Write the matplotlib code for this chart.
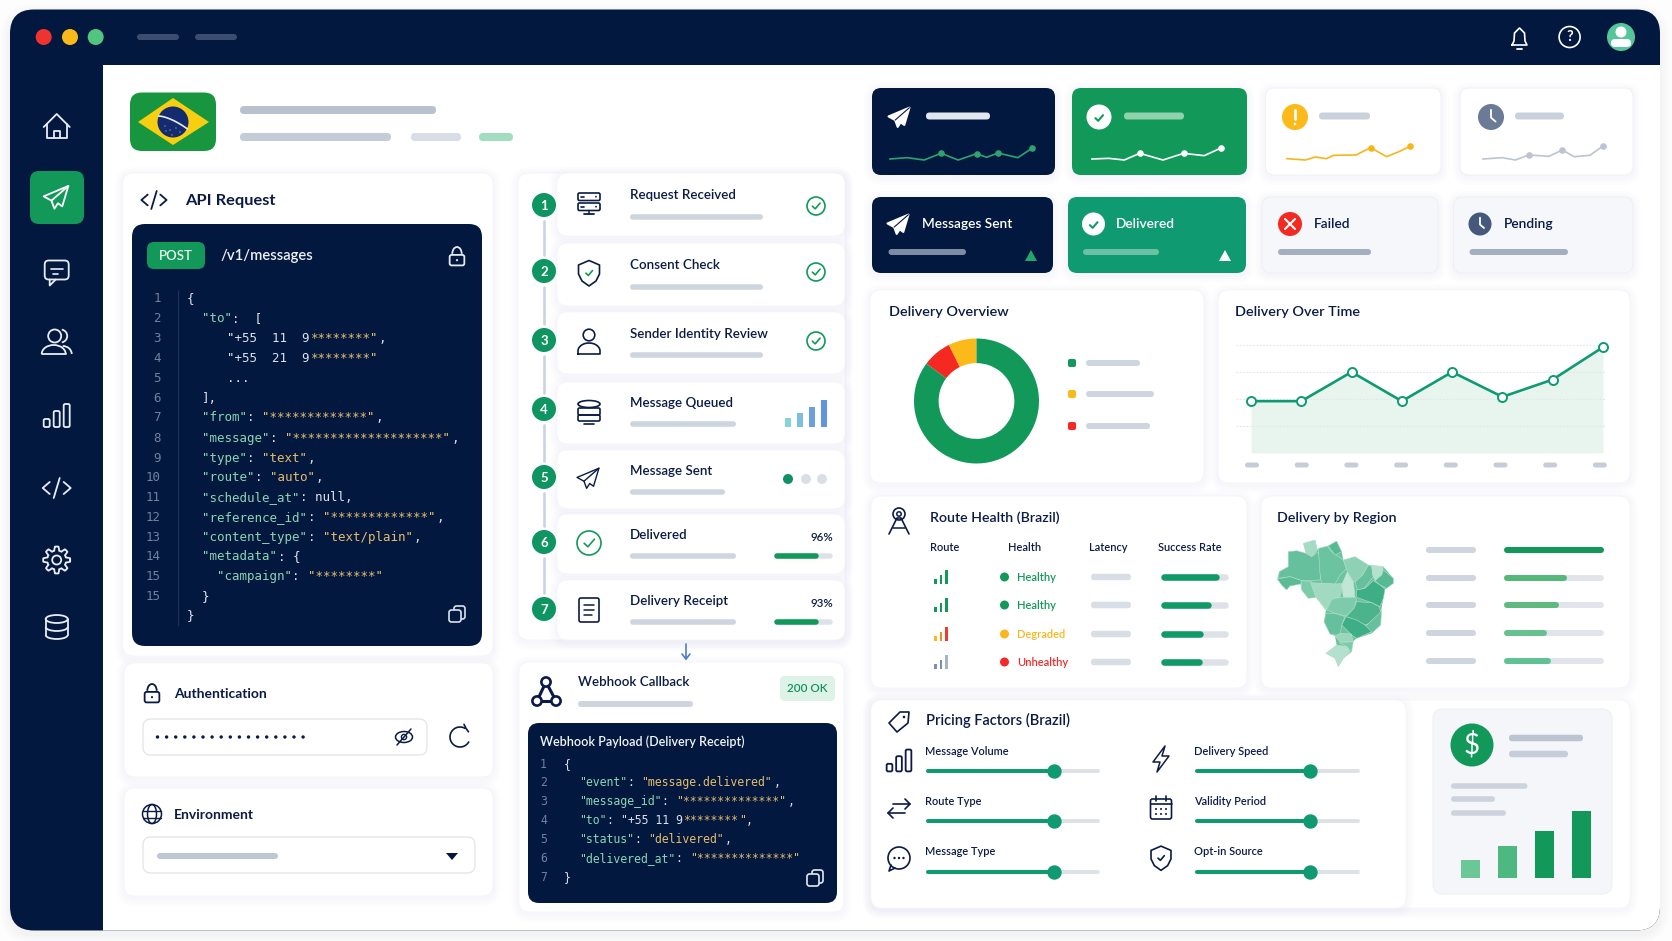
import itertools
import numpy as np
import matplotlib
matplotlib.use("Agg")
import matplotlib.pyplot as plt
from matplotlib.patches import FancyBboxPatch, Circle, Ellipse, Polygon, Arc, Rectangle

W, H = 1672, 941

NAVY = "#03183F"
INK = "#0B1B45"
GREEN = "#12995A"
TEAL = "#0F9A72"
PILL = "#CFD5DF"
KEY = "#8AD6B4"
STR = "#E6BC6E"
PUNCT = "#DCE2EE"
NUM = "#71819F"

# ---- data ----
spark_x = [
    [0, 12, 24, 36, 48, 61, 68, 76, 90, 100],
    [0, 13, 25, 37, 55, 71, 87, 100],
    [0, 15, 23, 32, 38, 56, 68, 81, 91, 100],
    [0, 16, 27, 38, 55, 66, 76, 89, 100],
]
spark_y = [
    [3, 7, 0, 20, 0, 19, 8, 21, 7, 35],
    [3, 5, 0, 20, 0, 20, 13, 36],
    [4, 0, 9, 4, 14, 15, 37, 10, 25, 41],
    [3, 7, 0, 15, 11, 30, 10, 14, 42],
]
spark_marks = [[3, 5, 7, 9], [3, 5, 7], [6, 9], [3, 5, 8]]
spark_colors = ["#2FA36F", "#FFFFFF", "#F7B519", "#BCC3D2"]

donut_values = [7.3, 7.5, 85.2]
donut_colors = ["#FBB91A", "#F42A22", GREEN]

time_values = [48, 48, 75, 48, 75, 52, 68, 98]

stat_labels = ["Messages Sent", "Delivered", "Failed", "Pending"]

steps = ["Request Received", "Consent Check", "Sender Identity Review", "Message Queued",
         "Message Sent", "Delivered", "Delivery Receipt"]
queue_bars = [9, 14, 20, 27]
queue_colors = ["#86D3DA", "#7DBFE0", "#6B9FDD", "#6193DE"]
step_pct = [96, 93]
step_fill = [0.74, 0.73]

route_headers = ["Route", "Health", "Latency", "Success Rate"]
route_status = ["Healthy", "Healthy", "Degraded", "Unhealthy"]
route_status_colors = [GREEN, GREEN, "#F9B71C", "#F42A2A"]
route_success = [0.86, 0.73, 0.59, 0.58]
signal_levels = [5, 9, 14.5]
signal_colors = [[GREEN] * 3, [GREEN] * 3, ["#F9B71C", "#F58A1F", "#EF3B2D"], ["#7F8FAE", "#7F8FAE", "#A9B3C6"]]

region_fill = [1.0, 0.61, 0.52, 0.39, 0.44]
region_colors = ["#12995A", "#55B87A", "#5DBB80", "#66C08F", "#5FC294"]

price_left = ["Message Volume", "Route Type", "Message Type"]
price_right = ["Delivery Speed", "Validity Period", "Opt-in Source"]
price_left_val = [0.74, 0.74, 0.74]
price_right_val = [0.70, 0.70, 0.70]

cost_bars = [18, 32, 47, 67]
cost_colors = ["#6CC797", "#4DB87F", GREEN, GREEN]

api_numbers = ["1", "2", "3", "4", "5", "6", "7", "8", "9", "10", "11", "12", "13", "14", "15", "15"]
api_code = [
    (187, [("{", PUNCT)]),
    (202, [('"to"', KEY), (":  [", PUNCT)]),
    (227, [('"+55  11  9', PUNCT), ("********", STR), ('"', STR), (",", PUNCT)]),
    (227, [('"+55  21  9', PUNCT), ("********", STR), ('"', STR)]),
    (227, [("...", PUNCT)]),
    (202, [("],", PUNCT)]),
    (202, [('"from"', KEY), (": ", PUNCT), ('"*************"', STR), (",", PUNCT)]),
    (202, [('"message"', KEY), (": ", PUNCT), ('"********************"', STR), (",", PUNCT)]),
    (202, [('"type"', KEY), (": ", PUNCT), ('"text"', STR), (",", PUNCT)]),
    (202, [('"route"', KEY), (": ", PUNCT), ('"auto"', STR), (",", PUNCT)]),
    (202, [('"schedule_at"', KEY), (": null,", PUNCT)]),
    (202, [('"reference_id"', KEY), (": ", PUNCT), ('"*************"', STR), (",", PUNCT)]),
    (202, [('"content_type"', KEY), (": ", PUNCT), ('"text/plain"', STR), (",", PUNCT)]),
    (202, [('"metadata"', KEY), (": {", PUNCT)]),
    (217, [('"campaign"', KEY), (": ", PUNCT), ('"********"', STR)]),
    (202, [("}", PUNCT)]),
    (187, [("}", PUNCT)]),
]
api_line_y = [298, 318, 337.5, 358, 377.5, 398, 417, 438, 457.5, 477, 497, 517, 537, 556, 576, 595.5, 615]

hook_code = [
    (564, [("{", PUNCT)]),
    (579, [('"event"', KEY), (": ", PUNCT), ('"message.delivered"', STR), (",", PUNCT)]),
    (579, [('"message_id"', KEY), (": ", PUNCT), ('"**************"', STR), (",", PUNCT)]),
    (579, [('"to"', KEY), (": ", PUNCT), ('"+55 11 9', PUNCT), ("********", STR), ('"', STR), (",", PUNCT)]),
    (579, [('"status"', KEY), (": ", PUNCT), ('"delivered"', STR), (",", PUNCT)]),
    (579, [('"delivered_at"', KEY), (": ", PUNCT), ('"**************"', STR)]),
    (564, [("}", PUNCT)]),
]
hook_line_y = [764, 782, 801, 820, 839, 858, 877]

# map shapes, shade per state
brazil_outline = [(190, 100), (225, 90), (232, 118), (262, 108), (290, 93), (305, 125), (310, 150), (345, 140),
                  (385, 165), (430, 170), (460, 205), (460, 220), (435, 238), (430, 265), (422, 310), (422, 345),
                  (395, 370), (350, 385), (338, 395), (335, 425), (310, 445), (295, 470), (285, 445), (258, 430),
                  (290, 405), (285, 378), (270, 372), (252, 335), (258, 300), (228, 262), (205, 265), (185, 240),
                  (182, 222), (150, 228), (140, 240), (125, 225), (112, 207), (118, 185), (145, 170), (145, 125),
                  (170, 122), (198, 130)]
brazil_states = [
    ([(190, 100), (225, 90), (232, 120), (215, 140), (198, 130)], "#A5DAC3"),
    ([(145, 125), (170, 122), (198, 130), (215, 140), (235, 125), (245, 175), (240, 210), (185, 212), (150, 200), (115, 205), (118, 185), (145, 170)], "#67C09D"),
    ([(112, 207), (150, 200), (185, 212), (182, 222), (150, 228), (140, 240), (125, 225)], "#5ABB95"),
    ([(185, 212), (215, 215), (230, 262), (205, 265), (185, 240)], "#7ECBAB"),
    ([(235, 115), (262, 108), (275, 125), (310, 150), (320, 175), (300, 195), (285, 222), (245, 222), (240, 190)], "#6BC3A0"),
    ([(265, 108), (290, 93), (305, 125), (285, 135)], "#58BA93"),
    ([(212, 218), (285, 222), (310, 220), (300, 262), (275, 265), (258, 300), (228, 262)], "#A2D9C1"),
    ([(322, 185), (340, 215), (345, 262), (310, 262), (305, 225)], "#C2E6D6"),
    ([(310, 150), (345, 140), (385, 165), (368, 195), (352, 215), (340, 215), (322, 185)], "#8FD1B5"),
    ([(385, 165), (395, 170), (400, 200), (372, 235), (352, 240), (345, 215), (368, 195)], "#66C09E"),
    ([(395, 165), (430, 170), (425, 195), (405, 212), (398, 195)], "#B4E0CE"),
    ([(430, 180), (460, 205), (460, 220), (440, 235), (420, 225), (405, 212), (425, 195)], "#58BA93"),
    ([(350, 240), (375, 235), (400, 212), (420, 225), (435, 238), (430, 265), (420, 290), (395, 278), (350, 262)], "#3DAE85"),
    ([(300, 262), (345, 262), (350, 270), (342, 295), (318, 318), (285, 310), (260, 300), (275, 268)], "#7ECBAB"),
    ([(342, 295), (350, 275), (395, 278), (418, 290), (422, 310), (415, 330), (375, 345), (345, 330), (318, 320)], "#4CB48C"),
    ([(418, 310), (425, 300), (422, 345), (395, 370), (375, 350)], "#67C09D"),
    ([(305, 345), (318, 320), (350, 330), (375, 345), (395, 365), (350, 385), (335, 375)], "#3DAE85"),
    ([(258, 310), (285, 310), (315, 320), (305, 345), (300, 378), (270, 372), (252, 335)], "#67C09D"),
    ([(300, 370), (335, 372), (338, 395), (300, 395), (285, 378)], "#9BD6BC"),
    ([(298, 398), (340, 395), (335, 425), (320, 410)], "#7ECBAB"),
    ([(258, 430), (290, 405), (320, 410), (330, 425), (310, 445), (295, 470), (285, 445)], "#B4E0CE"),
]

plt.rcParams["font.family"] = ["Lato", "DejaVu Sans"]

fig = plt.figure(figsize=(W / 100, H / 100), dpi=100, facecolor="#FDFDFE")
ax = fig.add_axes([0, 0, 1, 1])
ax.set_xlim(0, W)
ax.set_ylim(H, 0)
ax.axis("off")

z = itertools.count(2)


def rrect(x0, y0, x1, y1, r=8, fc="white", ec="none", lw=0.0, alpha=None, target=None):
    p = FancyBboxPatch((x0, y0), x1 - x0, y1 - y0, boxstyle=f"round,pad=0,rounding_size={r}",
                       fc=fc, ec=ec, lw=lw, alpha=alpha, zorder=next(z))
    (target or ax).add_patch(p)
    return p


def card(x0, y0, x1, y1, r=11, fc="white", ec="#F4F5F8", shadow=True):
    if shadow:
        for g in (8, 6, 4, 2):
            rrect(x0 - g, y0 - g + 2, x1 + g, y1 + g + 2, r + g, fc="#5B6B8C", alpha=0.006)
    return rrect(x0, y0, x1, y1, r, fc=fc, ec=ec, lw=0.6)


def pill(x0, x1, y, h=6, c=PILL):
    rrect(x0, y - h / 2, x1, y + h / 2, h / 2, fc=c)


def T(x, y, s, size=9.5, c=INK, weight="bold", ha="left", va="center", **kw):
    ax.text(x, y + 0.8, s, fontsize=size, color=c, fontweight=weight, ha=ha, va=va, zorder=next(z), **kw)


def L(xs, ys, c=INK, lw=1.3, **kw):
    ax.plot(xs, ys, color=c, lw=lw, solid_capstyle="round", solid_joinstyle="round", zorder=next(z), **kw)


def C(x, y, r, fc="none", ec="none", lw=1.3):
    ax.add_patch(Circle((x, y), r, fc=fc, ec=ec, lw=lw, zorder=next(z)))


def P(pts, fc="none", ec="none", lw=1.3, closed=True):
    ax.add_patch(Polygon(pts, closed=closed, fc=fc, ec=ec, lw=lw, joinstyle="round", zorder=next(z)))


def A(x, y, w, h, t1, t2, c=INK, lw=1.3):
    ax.add_patch(Arc((x, y), w, h, theta1=t1, theta2=t2, color=c, lw=lw, zorder=next(z)))


def inset(x0, y0, x1, y1):
    a = fig.add_axes([x0 / W, 1 - y1 / H, (x1 - x0) / W, (y1 - y0) / H])
    a.axis("off")
    a.patch.set_alpha(0)
    return a


def meter(x0, x1, y, frac, color=GREEN, track="#DDE1E8", h=5.5, thumb=None):
    a = inset(x0 + h / 2, y - 8, x1 - h / 2, y + 8)
    a.set_xlim(0, 1)
    a.set_ylim(-1, 1)
    lw = h * 0.72
    a.hlines(0, 0, 1, color=track, lw=lw, capstyle="round", clip_on=False)
    a.hlines(0, 0, frac, color=color, lw=lw, capstyle="round", clip_on=False)
    if thumb:
        a.scatter([frac], [0], s=(thumb * 2 * 0.72) ** 2, color=color, clip_on=False, zorder=5)


def plane(x, y, s, c="white", fill=False, lw=1.5):
    pts = [(0.95, -0.85), (-0.95, -0.05), (-0.35, 0.28), (-0.12, 0.9), (0.15, 0.48), (0.48, 0.72)]
    pts = [(x + a * s, y + b * s) for a, b in pts]
    P(pts, fc=c if fill else "none", ec=c, lw=lw)
    if fill:
        L([x - 0.35 * s, x + 0.95 * s], [y + 0.28 * s, y - 0.85 * s], c=NAVY, lw=0.8)
    else:
        L([x - 0.35 * s, x + 0.95 * s], [y + 0.28 * s, y - 0.85 * s], c=c, lw=lw)


def check(x, y, s, c, lw=1.5):
    L([x - 0.45 * s, x - 0.1 * s, x + 0.5 * s], [y + 0.02 * s, y + 0.35 * s, y - 0.35 * s], c=c, lw=lw)


def check_circle(x, y, r, c=GREEN, lw=1.2):
    C(x, y, r, ec=c, lw=lw)
    check(x, y, r * 0.9, c, lw)


def home_icon(x, y, c):
    L([x - 13, x, x + 13], [y + 1, y - 12, y + 1], c=c, lw=1.3)
    L([x - 10, x - 10, x + 10, x + 10], [y - 2, y + 12, y + 12, y - 2], c=c, lw=1.3)
    L([x - 3, x - 3, x + 3, x + 3], [y + 12, y + 5, y + 5, y + 12], c=c, lw=1.3)


def chat_icon(x, y, c):
    rrect(x - 12, y - 11, x + 12, y + 8, 4, fc="none", ec=c, lw=1.3)
    L([x - 7, x - 7, x - 1], [y + 8, y + 14, y + 8], c=c, lw=1.3)
    L([x - 6, x + 6], [y - 3, y - 3], c=c, lw=1.2)
    L([x - 4, x + 1], [y + 2, y + 2], c=c, lw=1.2)


def users_icon(x, y, c):
    C(x - 2, y - 6, 6.5, ec=c, lw=1.3)
    A(x - 3, y + 12, 24, 18, 180, 360, c=c, lw=1.3)
    L([x - 15, x + 9], [y + 12, y + 12], c=c, lw=1.3)
    A(x + 4, y - 6, 13, 13, -80, 80, c=c, lw=1.3)
    A(x + 6, y + 12, 18, 16, 270, 360, c=c, lw=1.3)


def bars_icon(x, y, c, s=1.0):
    for dx, top in zip((-10, 0, 10), (4, -4, -11)):
        rrect(x + (dx - 3) * s, y + top * s, x + (dx + 3) * s, y + 12 * s, 1.5, fc="none", ec=c, lw=1.3)


def code_icon(x, y, c, s=1.0, lw=1.3):
    L([x - 7 * s, x - 14 * s, x - 7 * s], [y - 6 * s, y, y + 6 * s], c=c, lw=lw)
    L([x + 7 * s, x + 14 * s, x + 7 * s], [y - 6 * s, y, y + 6 * s], c=c, lw=lw)
    L([x + 3 * s, x - 3 * s], [y - 10 * s, y + 10 * s], c=c, lw=lw)


def gear_icon(x, y, c):
    t = np.linspace(0, 2 * np.pi, 97)
    r = 11.5 + 2 * np.clip(3 * np.cos(8 * t), -1, 1)
    L(x + r * np.cos(t), y + r * np.sin(t), c=c, lw=1.3)
    C(x, y, 4.5, ec=c, lw=1.3)


def db_icon(x, y, c, s=1.0, lw=1.3):
    for dy in (0, 8):
        A(x, y + dy * s, 22 * s, 8 * s, 0, 180, c=c, lw=lw)
    ax.add_patch(Ellipse((x, y - 8 * s), 22 * s, 8 * s, fc="none", ec=c, lw=lw, zorder=next(z)))
    L([x - 11 * s, x - 11 * s], [y - 8 * s, y + 8 * s], c=c, lw=lw)
    L([x + 11 * s, x + 11 * s], [y - 8 * s, y + 8 * s], c=c, lw=lw)


def lock_icon(x, y, c, s=1.0):
    rrect(x - 7 * s, y - 2 * s, x + 7 * s, y + 8 * s, 2, fc="none", ec=c, lw=1.3)
    A(x, y - 3 * s, 9 * s, 13 * s, 180, 360, c=c, lw=1.3)
    C(x, y + 3 * s, 1.1, fc=c)


def copy_icon(x, y, c):
    rrect(x - 3, y - 8, x + 8, y + 5, 2.5, fc="none", ec=c, lw=1.2)
    rrect(x - 8, y - 4, x + 4, y + 8, 2.5, fc=NAVY, ec=c, lw=1.2)


def server_icon(x, y, c):
    for dy in (-10, 0):
        rrect(x - 11, y + dy, x + 11, y + dy + 7.5, 1.5, fc="none", ec=c, lw=1.2)
        L([x - 8, x - 5], [y + dy + 3.7, y + dy + 3.7], c=c, lw=1.2)
        C(x + 7, y + dy + 3.7, 0.9, fc=c)
    L([x - 5, x + 5], [y + 11, y + 11], c=c, lw=1.3)
    L([x, x], [y + 7.5, y + 11], c=c, lw=1.1)


def shield_icon(x, y, c, inner=GREEN, s=1.0):
    t = [(0, -12.5), (10.5, -8), (10.5, 1), (7, 8), (0, 13), (-7, 8), (-10.5, 1), (-10.5, -8)]
    P([(x + a * s, y + b * s) for a, b in t], ec=c, lw=1.2)
    check(x, y, 7 * s, inner, 1.2)


def person_icon(x, y, c):
    C(x, y - 7, 5.8, ec=c, lw=1.2)
    t = np.linspace(np.pi, 2 * np.pi, 30)
    xs = np.r_[x - 11, x + 11 * np.cos(t), x + 11, x - 11]
    ys = np.r_[y + 12, y + 9 + 8 * np.sin(t), y + 12, y + 12]
    L(xs, ys, c=c, lw=1.2)


def doc_icon(x, y, c):
    rrect(x - 10, y - 12, x + 10, y + 12, 2, fc="none", ec=c, lw=1.2)
    for dy, w in ((-5, 5), (0, 5), (5, 3)):
        L([x - 5, x + w], [y + dy, y + dy], c=c, lw=1.1)


def webhook_icon(x, y, c):
    pts = [(x, y - 9), (x - 9, y + 10), (x + 10, y + 10)]
    L([pts[1][0], pts[0][0], pts[2][0]], [pts[1][1], pts[0][1], pts[2][1]], c=c, lw=2.2)
    L([pts[1][0], pts[2][0]], [pts[1][1], pts[2][1]], c=c, lw=2.2)
    for a, b in pts:
        C(a, b, 4.6, fc="white", ec=c, lw=1.9)


def globe_icon(x, y, c):
    C(x, y, 9.5, ec=c, lw=1.1)
    ax.add_patch(Ellipse((x, y), 9, 19, fc="none", ec=c, lw=1.1, zorder=next(z)))
    for dy in (-3.5, 3.5):
        L([x - 9, x + 9], [y + dy, y + dy], c=c, lw=1.0)


def antenna_icon(x, y, c):
    C(x, y - 7, 6, ec=c, lw=1.2)
    C(x, y - 7, 2.2, ec=c, lw=1.1)
    L([x - 10, x - 2, x + 2, x + 10], [y + 13, y - 3, y - 3, y + 13], c=c, lw=1.2)
    L([x - 6, x + 6], [y + 7, y + 7], c=c, lw=1.1)


def tag_icon(x, y, c):
    P([(x - 10, y + 1), (x + 1, y - 10), (x + 10, y - 10), (x + 9, y + 1), (x - 2, y + 10)], ec=c, lw=1.2)
    C(x + 5, y - 5, 1.3, fc=c)


def bolt_icon(x, y, c):
    P([(x + 4, y - 13), (x - 8, y + 3), (x - 1, y + 3), (x - 4, y + 13), (x + 8, y - 3), (x + 1, y - 3)], ec=c, lw=1.1)


def swap_icon(x, y, c):
    L([x - 6, x + 11], [y - 4, y - 4], c=c, lw=1.2)
    L([x + 6, x + 11, x + 6], [y - 9, y - 4, y + 1], c=c, lw=1.2)
    L([x + 6, x - 11], [y + 5, y + 5], c=c, lw=1.2)
    L([x - 6, x - 11, x - 6], [y, y + 5, y + 10], c=c, lw=1.2)


def calendar_icon(x, y, c):
    rrect(x - 10.5, y - 9, x + 10.5, y + 11, 2, fc="none", ec=c, lw=1.2)
    L([x - 10.5, x + 10.5], [y - 4, y - 4], c=c, lw=1.2)
    for dx in (-5, 5):
        L([x + dx, x + dx], [y - 12, y - 7], c=c, lw=1.2)
    for dx in (-5, 0, 5):
        for dy in (1, 6):
            C(x + dx, y + dy, 1, fc=c)


def bubble_icon(x, y, c):
    C(x, y, 11, ec=c, lw=1.2)
    L([x - 8, x - 10, x - 4], [y + 7, y + 13, y + 10], c=c, lw=1.2)
    for dx in (-4.5, 0, 4.5):
        C(x + dx, y, 1.2, fc=c)


def refresh_icon(x, y, r, c):
    t = np.radians(np.linspace(30, 300, 50))
    L(x + r * np.cos(t), y + r * np.sin(t), c=c, lw=1.2)
    ex, ey = x + r * np.cos(t[-1]), y + r * np.sin(t[-1])
    L([ex - 1, ex + 1, ex + 3.5], [ey - 4, ey, ey + 3.5], c=c, lw=1.2)


def clock_badge(x, y, r, fc):
    C(x, y, r, fc=fc)
    L([x, x, x + r * 0.35], [y - r * 0.55, y + r * 0.05, y + r * 0.35], c="white", lw=1.3)


# ---- window frame ----
for g in (9, 7, 5, 3, 1.5):
    rrect(10 - g, 9.5 - g + 4, 1660 + g, 930.5 + g + 4, 24 + g, fc="#6C7A96", alpha=0.012)
frame = rrect(10, 9.5, 1660, 930.5, 24, fc=NAVY)
body = Rectangle((103, 64.5), 1570, 880, fc="white", zorder=next(z))
ax.add_patch(body)
body.set_clip_path(frame)

for x, c in zip((43.7, 70, 95.7), ("#F0332E", "#FBB91A", "#52C67F")):
    C(x, 37, 8, fc=c)
pill(137, 179, 37, 6, "#3B4C6E")
pill(195, 237, 37, 6, "#3B4C6E")

# header icons
L([1512, 1514, 1514.5, 1519.5, 1524.5, 1525, 1527, 1512], [45, 41, 33, 28, 33, 41, 45, 45], c="white", lw=1.2)
L([1517, 1522], [49, 49], c="white", lw=1.3)
C(1569.6, 37, 10.5, ec="white", lw=1.2)
T(1569.6, 36.5, "?", 10.5, c="white", ha="center")
C(1621, 37, 14, fc="#55C69A")
C(1621, 32, 5.5, fc="white")
rrect(1611, 39, 1631, 47, 4, fc="white")

# sidebar
SIDE = "#E8EDF5"
home_icon(56.7, 126, SIDE)
rrect(30, 171, 84, 224, 9, fc=GREEN)
plane(56, 197, 13, c="white", lw=1.3)
chat_icon(56.7, 271.5, SIDE)
users_icon(56.7, 342, SIDE)
bars_icon(56.7, 415, SIDE)
code_icon(56.7, 488, SIDE, 1.0)
gear_icon(56.7, 560, SIDE)
db_icon(56.7, 627, SIDE)

# flag + title placeholders
flag = rrect(130, 92.5, 216, 151, 12, fc="#18963F")
P([(138, 122), (173, 98), (209, 122), (173, 145)], fc="#F8CE10")
C(173, 122, 15.5, fc="#142B6F")
bx = np.linspace(158.5, 187.5, 20)
L(bx, 116 + 13 * ((bx - 158.5) / 29) ** 1.6, c="#E8ECF4", lw=1.2)
for sx, sy in ((165, 126), (170, 130), (176, 128), (180, 132), (172, 135), (166, 131)):
    C(sx, sy, 0.5, fc="white")
pill(240, 436, 110, 8, "#B8C1D0")
pill(240, 391, 137, 8, "#C5CCD8")
pill(411, 461, 137, 8, "#D9DDE5")
pill(479, 513, 137, 8, "#A3DDC0")

# ---- API request card ----
card(122.5, 173, 493, 656)
code_icon(154, 200, INK, 0.9)
T(185, 200, "API Request", 11.8)
rrect(132, 224, 482, 646, 13, fc=NAVY)
rrect(147, 242, 205, 269, 7, fc=GREEN)
T(176, 255, "POST", 9.5, c="#E9F7EF", ha="center", weight="semibold")
T(221, 255, "/v1/messages", 10.7, c="#EEF1F7", weight="semibold")
lock_icon(457, 257, "#E5E9F2", 1.05)
L([178, 178], [290, 625], c="#1E3359", lw=0.8)

CW = 7.55
for num, y in zip(api_numbers, api_line_y):
    T(161, y, num, 9, c=NUM, ha="right", weight="normal", family="DejaVu Sans Mono")
for (x0, parts), y in zip(api_code, api_line_y):
    col = 0
    for s, c in parts:
        T(x0 + col * CW, y, s, 9, c=c, weight="normal", family="DejaVu Sans Mono")
        col += len(s)
copy_icon(457, 614, "#DCE2EE")

# auth + environment
card(124, 663, 493, 777)
lock_icon(152, 694, INK, 1.05)
T(174, 693, "Authentication", 10)
rrect(143, 719, 427, 755, 8, fc="white", ec="#E3E6EC", lw=1)
for i in range(17):
    C(157.5 + i * 9.1, 737, 1.7, fc=INK)
ax.add_patch(Ellipse((404, 737), 17, 11, fc="none", ec=INK, lw=1.1, zorder=next(z)))
C(404, 737, 2.6, ec=INK, lw=1.0)
L([397, 411], [745, 729], c=INK, lw=1.1)
refresh_icon(460, 737, 10, INK)

card(124, 788, 493, 896)
globe_icon(152, 814, INK)
T(174, 814, "Environment", 10)
rrect(143, 837, 475, 873, 8, fc="white", ec="#E3E6EC", lw=1)
pill(157, 278, 856, 6, "#BFC7D4")
P([(446, 853), (458, 853), (452, 860)], fc=NAVY)

# ---- pipeline ----
card(518, 173, 845, 640)
step_top = [173, 243, 312, 382, 450, 514, 580]
step_bot = [236, 306, 374, 444, 509, 574, 640]
step_cy = [205, 271, 340, 409, 477, 542, 609]
step_icon_y = [203, 273, 342, 412, 478, 543, 610]
step_title_y = [194, 264, 333, 402, 470, 534, 600]
step_bar_y = [217, 287, 355, 424, 492, 556, 622]
step_bar_x1 = [763, 763, 763, 736, 725, 736, 736]

for t, b in zip(step_top, step_bot):
    card(557, t, 845, b, 11, ec="#F5F6F9")
for y0, y1 in zip(step_cy[:-1], step_cy[1:]):
    L([544, 544], [y0 + 16, y1 - 16], c="#CDD3DE", lw=1.9)
for i, (name, cy, iy, ty, by, bx) in enumerate(zip(steps, step_cy, step_icon_y, step_title_y, step_bar_y, step_bar_x1)):
    C(544, cy, 12, fc="#0E9561")
    T(544, cy, str(i + 1), 9.5, c="white", ha="center")
    T(630, ty, name, 9.6, weight="semibold")
    pill(630, bx, by, 5.5)

server_icon(589, step_icon_y[0], INK)
shield_icon(589, step_icon_y[1], INK, s=1.0)
person_icon(589, step_icon_y[2], INK)
ax.add_patch(Ellipse((589, 404), 22, 7, fc="none", ec=INK, lw=1.2, zorder=next(z)))
rrect(578, 408, 600, 415, 1.5, fc="none", ec=INK, lw=1.2)
rrect(578, 415, 600, 421, 1.5, fc="none", ec=INK, lw=1.2)
L([584, 594], [424, 424], c=INK, lw=1.2)
plane(588, step_icon_y[4], 11.5, c=INK, lw=1.0)
check_circle(589, step_icon_y[5], 12)
doc_icon(589, step_icon_y[6], INK)
for y in step_cy[:3]:
    check_circle(816, y + 1, 9)

# queued mini chart
qa = inset(782, 398, 830, 427)
qa.set_xlim(-0.5, 3.5)
qa.set_ylim(0, 29)
qa.bar(range(4), queue_bars, width=0.42, color=queue_colors)
for x, c in zip((788, 806, 822), ("#0F9168", "#DADEE6", "#DADEE6")):
    C(x, 479, 5, fc=c)
for pct, fill, ty, by in zip(step_pct, step_fill, (537, 603), (556, 622)):
    T(833, ty, f"{pct}%", 8.3, ha="right", weight="semibold")
    meter(774, 833, by, fill)

L([686, 686], [644, 659], c="#4A7FC8", lw=1.2)
L([682, 686, 690], [654, 659, 654], c="#4A7FC8", lw=1.2)

# webhook
card(519, 662, 844, 912)
webhook_icon(546, 691, INK)
T(578, 681, "Webhook Callback", 9.6, weight="semibold")
pill(578, 693, 704, 6)
rrect(780, 676, 835, 701, 5, fc="#DDF3E7")
T(807.5, 688, "200 OK", 8.4, c="#12925A", ha="center", weight="semibold")
rrect(528, 723, 837, 903, 11, fc=NAVY)
T(540, 741, "Webhook Payload (Delivery Receipt)", 9, c="#F2F4F9", weight="semibold")
CW2 = 6.95
for i, ((x0, parts), y) in enumerate(zip(hook_code, hook_line_y)):
    T(543.5, y, str(i + 1), 8.3, c=NUM, ha="center", weight="normal", family="DejaVu Sans Mono")
    col = 0
    for s, c in parts:
        T(x0 + col * CW2, y, s, 8.3, c=c, weight="normal", family="DejaVu Sans Mono")
        col += len(s)
copy_icon(815, 878, "#E3E7F0")

# ---- KPI sparkline cards ----
kpi = [(872, 1055, NAVY, "none"), (1072, 1247, GREEN, "none"), (1265.5, 1441, "#FFFFFF", "#EEF0F4"), (1460, 1633, "#FFFFFF", "#EEF0F4")]
kpi_pill = [(926, 990, "#E2E6EE"), (1124, 1184, "#8FD2AC"), (1319, 1370, "#CBD1DC"), (1515, 1564, "#CBD1DC")]
spark_rect = [(890, 1032), (1092, 1221), (1287, 1410), (1483, 1603)]
for (x0, x1, fc, ec), (p0, p1, pc) in zip(kpi, kpi_pill):
    card(x0, 88, x1, 175, 9, fc=fc, ec=ec)
    pill(p0, p1, 116, 7, pc)
plane(899, 117, 11, c="white", fill=True)
C(1099, 117, 12.5, fc="white")
check(1099, 118, 8, GREEN, 1.5)
C(1295, 117, 13, fc="#FBB91A")
L([1295, 1295], [110, 119], c="white", lw=2)
C(1295, 124, 1.3, fc="white")
clock_badge(1491, 117, 13, "#6B7A95")

for xs, ys, marks, c, (x0, x1) in zip(spark_x, spark_y, spark_marks, spark_colors, spark_rect):
    a = inset(x0, 145, x1, 160)
    a.set_xlim(0, 100)
    a.set_ylim(0, 45)
    a.plot(xs, ys, color=c, lw=1.2, clip_on=False)
    a.scatter([xs[i] for i in marks], [ys[i] for i in marks], s=14, color=c, clip_on=False, zorder=3)

# ---- status cards ----
stat = [(872, 1053, NAVY, "none"), (1068, 1246, TEAL, "none"), (1262, 1438, "#F5F7FA", "#ECEEF3"), (1453.5, 1633, "#F5F7FA", "#ECEEF3")]
stat_bar = [(888.5, 966, "#7E8BA4"), (1083, 1159, "#6CC0A3"), (1278, 1371, "#A4AEC1"), (1469.5, 1568, "#A4AEC1")]
stat_text_x = [922, 1116, 1314, 1504]
stat_text_c = ["white", "white", INK, INK]
for (x0, x1, fc, ec), (b0, b1, bc), label, tx, tc in zip(stat, stat_bar, stat_labels, stat_text_x, stat_text_c):
    card(x0, 197, x1, 273, 9, fc=fc, ec=ec)
    T(tx, 223, label, 9.9, c=tc, weight="semibold")
    pill(b0, b1, 252, 6, bc)
plane(898, 224, 11, c="white", fill=True)
C(1093.5, 224, 11.5, fc="white")
check(1093.5, 225, 8, TEAL, 1.5)
C(1290, 224, 12, fc="#F42A22")
L([1285, 1295], [219, 229], c="white", lw=1.5)
L([1285, 1295], [229, 219], c="white", lw=1.5)
clock_badge(1480, 224, 11.5, "#45597C")
P([(1025, 261), (1037, 261), (1031, 250)], fc="#22A86B")
P([(1219, 261), (1231, 261), (1225, 250)], fc="white")

# ---- delivery overview ----
card(870, 290, 1204, 483)
T(889, 311, "Delivery Overview", 10.4, weight="semibold")
da = inset(914, 338.5, 1039, 463.5)
da.pie(donut_values, colors=donut_colors, startangle=90, counterclock=True, radius=1.0,
       wedgeprops={"width": 0.394, "linewidth": 0})
da.set_xlim(-1, 1)
da.set_ylim(-1, 1)
for y, c, x1 in zip((363, 394, 426), (GREEN, "#FBB91A", "#F42A22"), (1140, 1154, 1150)):
    rrect(1068, y - 4, 1076, y + 4, 2, fc=c)
    pill(1086, x1, y, 6)

# ---- delivery over time ----
card(1218, 290, 1630, 483)
T(1235, 311, "Delivery Over Time", 10.4, weight="semibold")
ta = inset(1251, 345, 1603, 453)
ta.set_xlim(0, len(time_values) - 1)
ta.set_ylim(0, 100)
for g in (100, 75, 50, 25):
    ta.plot([-0.3, 7.05], [g, g], color="#E2E6EC", lw=0.8, ls=(0, (1.5, 1.5)), clip_on=False)
ta.fill_between(range(len(time_values)), time_values, 0, color="#DDF1E7", alpha=0.65, lw=0)
ta.plot(range(len(time_values)), time_values, color=TEAL, lw=1.9, marker="o", ms=6.5,
        mfc="white", mec=TEAL, mew=1.4, clip_on=False)
for i in range(len(time_values)):
    pill(1245 + i * 49.7, 1259 + i * 49.7, 465, 5, "#C7CDD8")

# ---- route health ----
card(871, 496, 1247, 688)
antenna_icon(899, 521, INK)
T(930, 517, "Route Health (Brazil)", 10.2, weight="semibold")
for x, name in zip((930, 1008, 1089, 1158), route_headers):
    T(x, 547, name, 7.9, weight="semibold")
for y, status, sc, frac, sig in zip((577, 605, 634, 662), route_status, route_status_colors, route_success, signal_colors):
    sa = inset(933, y - 8, 949, y + 7)
    sa.set_xlim(-0.5, 2.5)
    sa.set_ylim(0, 15)
    sa.bar(range(3), signal_levels, width=0.55, color=sig)
    C(1004.5, y, 4.5, fc=sc)
    T(1017, y, status, 8, c=sc, weight="semibold")
    pill(1091, 1131, y, 6.5, "#D9DDE5")
    meter(1161, 1228, y, frac, color="#0F9A66", h=6.5)

# ---- delivery by region ----
card(1261, 496, 1630, 688)
T(1277, 517, "Delivery by Region", 10.3, weight="semibold")
ma = inset(1273.3, 536.7, 1396.7, 670)
ma.set_xlim(100, 470)
ma.set_ylim(480, 80)
ma.add_patch(Polygon(brazil_outline, closed=True, fc="#6CC3A0", ec="none"))
for pts, c in brazil_states:
    ma.add_patch(Polygon(pts, closed=True, fc=c, ec="#BFE5D3", lw=0.35))
for y, frac, c in zip((550, 578, 605, 633, 661), region_fill, region_colors):
    pill(1426, 1476, y, 6)
    meter(1504, 1604, y, frac, color=c, track="#E1E4EA", h=6)

# ---- pricing ----
card(871, 700, 1630, 908, ec="#F7F8FA")
card(871, 700, 1406, 908, ec="#F7F8FA")
tag_icon(899, 722, INK)
T(926, 720, "Pricing Factors (Brazil)", 10.5, weight="semibold")
slider_y = [771, 821, 872]
label_y = [751, 801, 851]
icon_y = [759, 808, 858]
for name, val, ly, sy in zip(price_left, price_left_val, label_y, slider_y):
    T(925, ly, name, 7.9, weight="semibold")
    meter(926, 1100, sy, val, color="#0F9A72", h=4, thumb=6.5)
for name, val, ly, sy in zip(price_right, price_right_val, label_y, slider_y):
    T(1194.5, ly, name, 7.9, weight="semibold")
    meter(1194.5, 1360, sy, val, color="#0F9A72", h=4, thumb=6.5)
bars_icon(899, icon_y[0] + 1, INK, 0.95)
swap_icon(899, icon_y[1], INK)
bubble_icon(899, icon_y[2], INK)
bolt_icon(1161, icon_y[0], INK)
calendar_icon(1161, icon_y[1], INK)
shield_icon(1161, icon_y[2], INK, inner=INK, s=0.95)

rrect(1433, 709, 1612, 894, 10, fc="#F4F6F9", ec="#EEF0F4", lw=0.8)
C(1472, 745, 21.5, fc=GREEN)
T(1472, 744, "$", 20, c="white", ha="center", weight="normal")
pill(1509, 1583, 738, 6.5, "#BCC4D1")
pill(1509, 1568, 754, 6.5, "#C7CDD8")
pill(1451, 1527.5, 786, 5.5, "#CDD3DD")
pill(1451, 1495, 799, 5.5, "#CDD3DD")
pill(1451, 1506, 813, 5.5, "#CDD3DD")
ca = inset(1452, 811, 1600, 878)
ca.set_xlim(-0.5, 3.5)
ca.set_ylim(0, 67)
ca.bar(range(4), cost_bars, width=0.52, color=cost_colors)

fig.savefig("out.png", dpi=100, facecolor=fig.get_facecolor())
